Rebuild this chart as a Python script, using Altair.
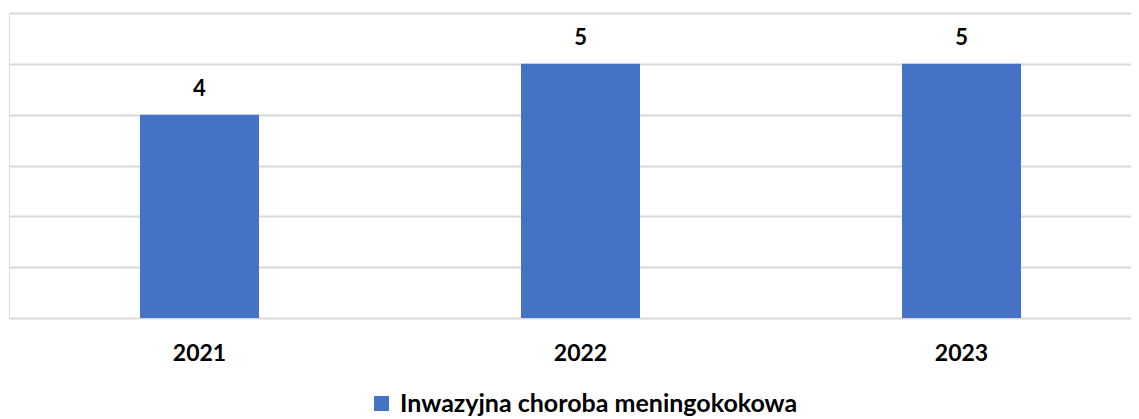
import altair as alt
import pandas as pd

years = ["2021", "2022", "2023"]
values = [4, 5, 5]
series = ["Inwazyjna choroba meningokokowa"] * 3

df = pd.DataFrame({"rok": years, "wartosc": values, "seria": series})

FONT = "Lato"

yaxis = alt.Axis(
    title=None,
    labels=False,
    ticks=False,
    domain=False,
    values=[0, 1, 2, 3, 4, 5, 6],
    gridColor="#d9d9d9",
    gridWidth=2,
)
yscale = alt.Scale(domain=[0, 6], nice=False)

base = alt.Chart(df)

bars = base.mark_bar(color="#4472C4").encode(
    x=alt.X(
        "rok:N",
        sort=years,
        scale=alt.Scale(range=[0, 1143], paddingInner=0.6877, paddingOuter=0.3438),
        axis=alt.Axis(
            title=None,
            labelAngle=0,
            labelFont=FONT,
            labelFontSize=23,
            labelFontWeight="bold",
            labelColor="#000000",
            labelPadding=24,
            ticks=False,
            domain=False,
        ),
    ),
    y=alt.Y("wartosc:Q", scale=yscale, axis=yaxis),
    color=alt.Color(
        "seria:N",
        scale=alt.Scale(range=["#4472C4"]),
        legend=alt.Legend(
            title=None,
            orient="none",
            legendX=360,
            legendY=378,
            padding=0,
            symbolType="square",
            symbolSize=225,
            symbolStrokeWidth=0,
            labelFont=FONT,
            labelFontSize=25,
            labelFontWeight="bold",
            labelColor="#000000",
            labelOffset=6,
            labelLimit=0,
        ),
    ),
)

labels = base.mark_text(
    font=FONT, fontSize=22, fontWeight="bold", color="#000000", dy=-26
).encode(
    x=alt.X("rok:N", sort=years),
    y=alt.Y("wartosc:Q", scale=yscale, axis=yaxis),
    text=alt.Text("wartosc:Q"),
)

chart = (
    alt.layer(bars, labels)
    .properties(
        width=1122,
        height=305,
        autosize=alt.AutoSizeParams(type="none"),
        padding={"left": 1, "top": 5, "right": 0, "bottom": 98},
    )
    .configure_view(stroke=None)
    .configure(background="#ffffff")
)

chart.save("out.html", embed_options={"renderer": "svg", "actions": False})
